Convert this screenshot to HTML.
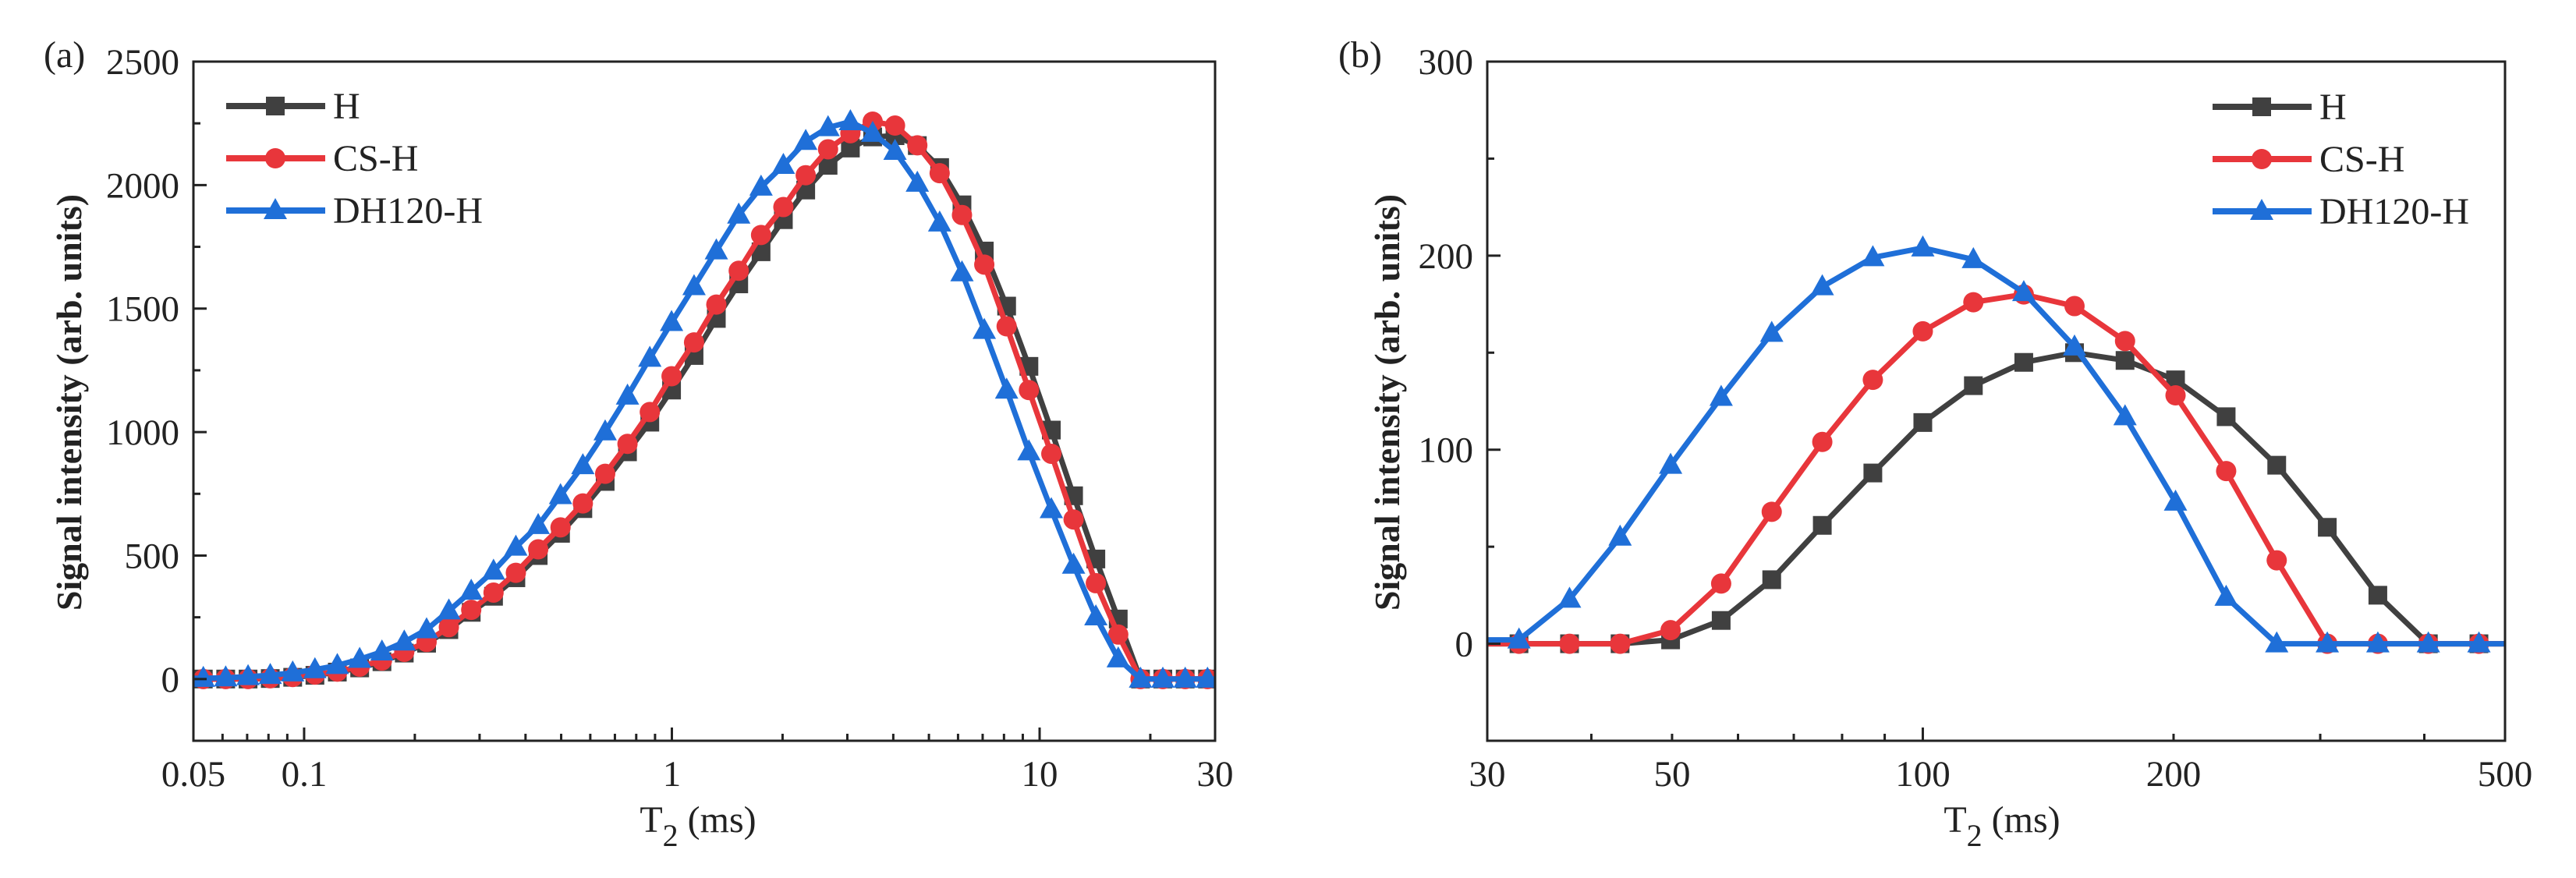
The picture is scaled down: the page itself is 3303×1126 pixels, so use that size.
<!DOCTYPE html>
<html><head><meta charset="utf-8"><style>
html,body{margin:0;padding:0;background:#fff;}
svg{display:block;font-family:"Liberation Serif","DejaVu Serif",serif;}
</style></head><body>
<svg id="fig" width="3303" height="1126" viewBox="0 0 3303 1126" xmlns="http://www.w3.org/2000/svg"></svg>
<script>
// ---------- Panel (a) data ----------
const aT2 = [0.0532,0.0612,0.0704,0.0809,0.0931,0.107,0.1231,0.1416,0.1628,0.1872,0.2153,0.2475,0.2847,0.3274,0.3765,0.433,0.498,0.5727,0.6586,0.7574,0.871,0.998,1.149,1.321,1.52,1.748,2.01,2.312,2.659,3.058,3.516,4.044,4.65,5.348,6.15,7.072,8.134,9.352,10.76,12.37,14.22,16.36,18.81,21.63,24.88,28.61];
const aH = [0,0,0,2,7,15,28,45,70,105,145,200,270,335,410,500,590,690,800,920,1040,1170,1310,1460,1600,1730,1860,1980,2080,2150,2195,2200,2160,2071,1920,1733,1510,1266,1008,742,486,243,0,0,0,0];
const aCS = [0,0,0,3,8,18,30,50,75,110,150,210,280,350,430,525,614,711,831,952,1081,1226,1363,1516,1653,1798,1911,2040,2145,2210,2257,2241,2161,2048,1879,1678,1428,1170,912,646,388,180,0,0,0,0];
const aDH = [3,5,10,15,25,38,55,80,110,150,200,276,356,437,534,622,743,864,1001,1146,1299,1444,1589,1734,1879,1992,2080,2177,2233,2257,2210,2137,2008,1847,1645,1412,1170,920,686,461,252,82,0,0,0,0];
const aYTicks = [0,500,1000,1500,2000,2500];
const aXTicks = [0.05,0.1,1,10,30];
const aXTickLabels = ["0.05","0.1","1","10","30"];
// ---------- Panel (b) data ----------
const bT2 = [32.75,37.66,43.31,49.8,57.27,65.86,75.74,87.1,100,115,132.2,152.1,174.9,201.1,231.3,266,305.9,351.8,404.5,465.2];
const bH = [0,0,0,2,12,33,61,88,114,133,145,150,146,136,117,92,60,25,0,0];
const bCS = [0,0,0,7,31,68,104,136,161,176,180,174,156,128,89,43,0,0,0,0];
const bDH = [2,23,55,92,127,160,184,199,204,198,181,153,117,73,24,0,0,0,0,0];
const bYTicks = [0,100,200,300];
const bXTicks = [30,50,100,200,500];
const bXTickLabels = ["30","50","100","200","500"];

const NS="http://www.w3.org/2000/svg";
const svg=document.getElementById('fig');
function mk(tag,attrs,parent){const e=document.createElementNS(NS,tag);for(const k in attrs)e.setAttribute(k,attrs[k]);(parent||svg).appendChild(e);return e;}
const COLORS={H:'#404040',CS:'#e8363b',DH:'#1f6fd8'};

function panel(cfg){
  const g=mk('g',{});
  
  
  const L=cfg.left,R=cfg.right,T=cfg.top,B=cfg.bottom;
  const lx0=Math.log10(cfg.xmin),lx1=Math.log10(cfg.xmax);
  const sx=v=>L+(Math.log10(v)-lx0)/(lx1-lx0)*(R-L);
  const sy=v=>B-(v-cfg.ymin)/(cfg.ymax-cfg.ymin)*(B-T);
  const cid='clip'+cfg.name;
  const defs=mk('defs',{},g);const cp=mk('clipPath',{id:cid},defs);mk('rect',{x:L,y:T,width:R-L,height:B-T},cp);
  cfg.series.forEach(s=>{
    const sg=mk('g',{'clip-path':'url(#'+cid+')'},g);
    
    
    let pts=[[L,sy(s.vals[0])]];
    cfg.x.forEach((xv,i)=>pts.push([sx(xv),sy(s.vals[i])]));
    pts.push([R,sy(s.vals[s.vals.length-1])]);
    const pl=mk('polyline',{points:pts.map(p=>p[0].toFixed(1)+','+p[1].toFixed(1)).join(' '),fill:'none',stroke:s.color,'stroke-width':7,'stroke-linejoin':'round'},sg);
    
    
    cfg.x.forEach((xv,i)=>{
      const m=marker(s.shape,sx(xv),sy(s.vals[i]),s.color,sg);
      
      
    });
  });
  const fr=mk('rect',{x:L,y:T,width:R-L,height:B-T,fill:'none',stroke:'#222','stroke-width':3},g);
  
  
  for(let v=cfg.ymin;v<=cfg.ymax;v+=cfg.yminor){
    const major=cfg.yTicks.indexOf(v)>=0;
    mk('line',{x1:L,x2:L+(major?17:9),y1:sy(v),y2:sy(v),stroke:'#222','stroke-width':3},g);
  }
  cfg.yTicks.forEach(v=>{
    const t=mk('text',{x:L-18,y:sy(v)+16,'text-anchor':'end','font-size':47,fill:'#222'},g);
    t.textContent=String(v);
    
    
  });
  for(let d=Math.floor(lx0);d<=Math.ceil(lx1);d++){
    for(let k=1;k<10;k++){
      const v=k*Math.pow(10,d);
      if(v<cfg.xmin*0.999||v>cfg.xmax*1.001)continue;
      const major=(k===1);
      mk('line',{x1:sx(v),x2:sx(v),y1:B,y2:B-(major?17:9),stroke:'#222','stroke-width':3},g);
    }
  }
  cfg.xTicks.forEach((v,i)=>{
    const t=mk('text',{x:sx(v),y:B+58,'text-anchor':'middle','font-size':47,fill:'#222'},g);
    t.textContent=cfg.xTickLabels[i];
    
    
  });
  const xt=mk('text',{x:cfg.xTitleX,y:1067,'text-anchor':'middle','font-size':48,fill:'#222'},g);
  
  
  const t1=mk('tspan',{},xt);t1.textContent='T';
  const t2=mk('tspan',{dy:18,'font-size':40},xt);t2.textContent='2';
  const t3=mk('tspan',{dy:-18},xt);t3.textContent=' (ms)';
  const yt=mk('text',{x:0,y:0,'text-anchor':'middle','font-size':46,'font-weight':'bold',fill:'#222',transform:'translate('+cfg.yTitleX+',516) rotate(-90)'},g);
  yt.textContent='Signal intensity (arb. units)';
  
  
  const pl=mk('text',{x:cfg.labelX,y:86,'font-size':48,fill:'#222'},g);
  pl.textContent=cfg.label;
  
  
  const lg=mk('g',{},g);
  
  
  cfg.series.forEach((s,i)=>{
    const y=cfg.legY+i*67;
    const eg=mk('g',{},lg);
    
    
    mk('line',{x1:cfg.legX,x2:cfg.legX+127,y1:y,y2:y,stroke:s.color,'stroke-width':8},eg);
    marker(s.shape,cfg.legX+63,y,s.color,eg);
    const t=mk('text',{x:cfg.legX+137,y:y+16,'font-size':48,fill:'#222'},eg);
    t.textContent=s.label;
  });
}
function marker(shape,x,y,c,parent){
  if(shape==='sq') return mk('rect',{x:x-12,y:y-12,width:24,height:24,fill:c},parent);
  if(shape==='ci') return mk('circle',{cx:x,cy:y,r:13,fill:c},parent);
  return mk('polygon',{points:[x,y-16,x-15,y+11,x+15,y+11].join(','),fill:c},parent);
}
panel({name:'panel-a',left:248,right:1558,top:79,bottom:950,xmin:0.05,xmax:30,ymin:-250,ymax:2500,yminor:250,
  yTicks:aYTicks,xTicks:aXTicks,xTickLabels:aXTickLabels,x:aT2,xTitleX:895,yTitleX:104,labelX:56,label:'(a)',
  legX:290,legY:136,
  series:[{key:'H',label:'H',vals:aH,color:COLORS.H,shape:'sq'},{key:'CS-H',label:'CS-H',vals:aCS,color:COLORS.CS,shape:'ci'},{key:'DH120-H',label:'DH120-H',vals:aDH,color:COLORS.DH,shape:'tr'}]});
panel({name:'panel-b',left:1907,right:3212,top:79,bottom:950,xmin:30,xmax:500,ymin:-50,ymax:300,yminor:50,
  yTicks:bYTicks,xTicks:bXTicks,xTickLabels:bXTickLabels,x:bT2,xTitleX:2567,yTitleX:1794,labelX:1716,label:'(b)',
  legX:2837,legY:137,
  series:[{key:'H',label:'H',vals:bH,color:COLORS.H,shape:'sq'},{key:'CS-H',label:'CS-H',vals:bCS,color:COLORS.CS,shape:'ci'},{key:'DH120-H',label:'DH120-H',vals:bDH,color:COLORS.DH,shape:'tr'}]});
</script>
</body></html>
